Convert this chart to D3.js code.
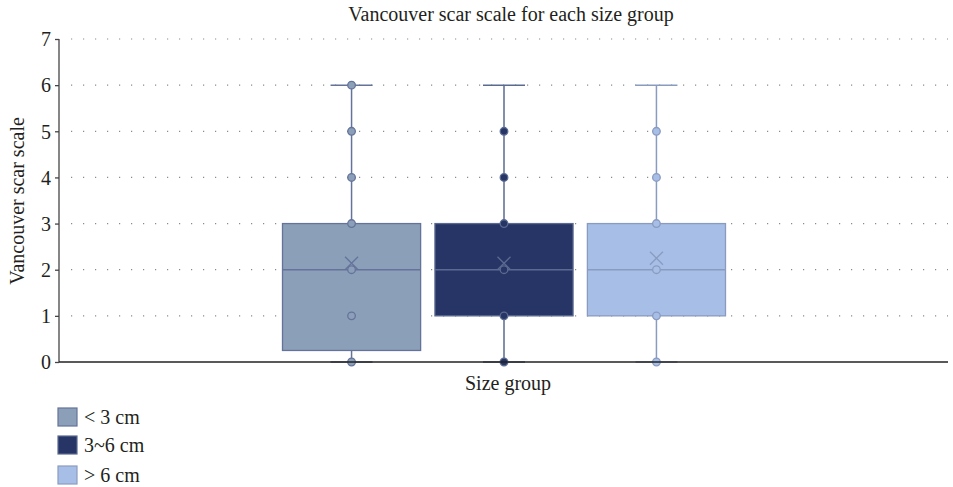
<!DOCTYPE html>
<html><head><meta charset="utf-8">
<script src="https://cdn.jsdelivr.net/npm/d3@7"></script>
<style>body{margin:0;background:#fff}svg{display:block}text{font-family:"Liberation Serif","DejaVu Serif",serif;fill:#231f20}</style>
</head><body><svg id="c" width="953" height="487"></svg>
<script>
const series = ["< 3 cm", "3~6 cm", "> 6 cm"];
const fills = ["#8b9fb8", "#263566", "#a7bee6"];
const strokes = ["#65739a", "#5b6a90", "#8a9bc0"];
const q1 = [0.25, 1, 1];
const median = [2, 2, 2];
const q3 = [3, 3, 3];
const whiskerLow = [0, 0, 0];
const whiskerHigh = [6, 6, 6];
const means = [2.14, 2.14, 2.25];
const points = [[0,1,2,3,4,5,6],[0,1,2,3,4,5],[0,1,2,3,4,5]];
const yTicks = [0,1,2,3,4,5,6,7];

const svg = d3.select("#c");
const L = 59, R = 948, T = 39, B = 362;
const y = d3.scaleLinear().domain([0,7]).range([B,T]);
const cx = (L+R)/2;
const x = d3.scaleBand().domain(series).range([cx-221, cx+222]).paddingInner(0.094);

// grid
svg.append("g").selectAll("line").data(yTicks.filter(d=>d>0)).join("line")
  .attr("x1", L+12).attr("x2", R).attr("y1", d=>y(d)).attr("y2", d=>y(d))
  .attr("stroke","#8a8a8a").attr("stroke-width",1.2).attr("stroke-dasharray","1.2 10.8");

// y axis
const ya = svg.append("g").attr("transform",`translate(${L},0)`)
  .call(d3.axisLeft(y).tickValues(yTicks).tickSize(4).tickPadding(4).tickFormat(d3.format("d")));
ya.select(".domain").attr("stroke","#444").attr("stroke-width",1.3).attr("d",`M0,${B}V${T}`);
ya.selectAll(".tick line").attr("stroke","#444").attr("stroke-width",1.3);
ya.selectAll(".tick text").style("font-size","20px").style("font-family","'Liberation Serif',serif").attr("fill","#231f20").attr("dy","0.34em");

// boxes
series.forEach((s,i)=>{
  const g = svg.append("g");
  const bx = x(s), bw = x.bandwidth(), c = bx + bw/2, cap = 21;
  g.append("line").attr("x1",c).attr("x2",c).attr("y1",y(whiskerHigh[i])).attr("y2",y(q3[i])).attr("stroke",strokes[i]).attr("stroke-width",1.5);
  g.append("line").attr("x1",c).attr("x2",c).attr("y1",y(whiskerLow[i])).attr("y2",y(q1[i])).attr("stroke",strokes[i]).attr("stroke-width",1.5);
  [whiskerHigh[i], whiskerLow[i]].forEach(v=>g.append("line").attr("x1",c-cap).attr("x2",c+cap).attr("y1",y(v)).attr("y2",y(v)).attr("stroke",strokes[i]).attr("stroke-width",1.5));
  g.append("rect").attr("x",bx).attr("width",bw).attr("y",y(q3[i])).attr("height",y(q1[i])-y(q3[i]))
    .attr("fill",fills[i]).attr("stroke",strokes[i]).attr("stroke-width",1.3);
  g.append("line").attr("x1",bx).attr("x2",bx+bw).attr("y1",y(median[i])).attr("y2",y(median[i])).attr("stroke",strokes[i]).attr("stroke-width",1.5);
  const my = y(means[i]), m = 6.5;
  g.append("path").attr("d",`M${c-m},${my-m}L${c+m},${my+m}M${c-m},${my+m}L${c+m},${my-m}`).attr("stroke",strokes[i]).attr("stroke-width",1.3).attr("fill","none");
  g.selectAll("circle").data(points[i]).join("circle").attr("cx",c).attr("cy",d=>y(d)).attr("r",3.8)
    .attr("fill",fills[i]).attr("stroke",strokes[i]).attr("stroke-width",1.3);
});

// x axis line
svg.append("line").attr("x1",L).attr("x2",R).attr("y1",B).attr("y2",B).attr("stroke","#222").attr("stroke-width",1.5);

// texts
svg.append("text").attr("x",511).attr("y",21).attr("text-anchor","middle").style("font-size","20px").text("Vancouver scar scale for each size group");
svg.append("text").attr("x",508).attr("y",390).attr("text-anchor","middle").style("font-size","20px").text("Size group");
svg.append("text").attr("transform","translate(24,201) rotate(-90)").attr("text-anchor","middle").style("font-size","20px").text("Vancouver scar scale");

// legend
const lg = svg.append("g").selectAll("g").data(series).join("g").attr("transform",(d,i)=>`translate(58,${[408,436,466][i]})`);
lg.append("rect").attr("width",19).attr("height",18).attr("fill",(d,i)=>fills[i]).attr("stroke",(d,i)=>strokes[i]).attr("stroke-width",1.2);
lg.append("text").attr("x",26).attr("y",15.5).style("font-size","20px").text(d=>d);
</script></body></html>
